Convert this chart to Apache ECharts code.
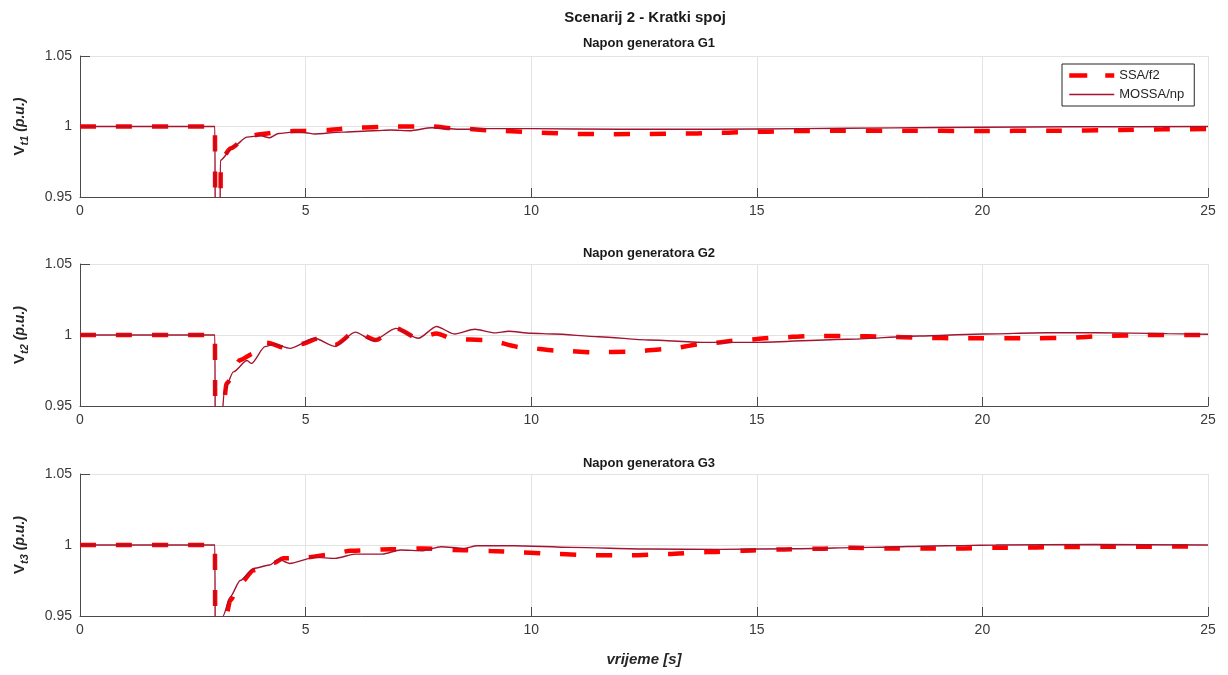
<!DOCTYPE html>
<html>
<head>
<meta charset="utf-8">
<script src="https://cdn.jsdelivr.net/npm/echarts@6/dist/echarts.min.js"></script>
<style>
html,body{margin:0;padding:0;background:#fff;}
#chart{width:1228px;height:675px;}
</style>
</head>
<body>
<div id="chart"></div>
<script>
// ---- Data ----
const xTicks = [0, 5, 10, 15, 20, 25];
const yTicks = [0.95, 1, 1.05];

// Panel 1 : Napon generatora G1
const t1SSA = [0, 2.99, 3.0, 3.11, 3.12, 3.34, 3.7, 4.0, 4.5, 5.0, 5.5, 6.2, 7.0, 7.8, 8.3, 9.4, 10.2, 11.0, 11.8, 12.6, 13.4, 14.2, 15.0, 15.8, 16.7, 18.3, 19.9, 21.5, 23.1, 24.0, 25];
const v1SSA = [1, 1, 0.90, 0.90, 0.976, 0.9845, 0.9928, 0.9945, 0.9965, 0.997, 0.9976, 0.9993, 1.0, 1.0, 0.9987, 0.9968, 0.9956, 0.9947, 0.9945, 0.9947, 0.995, 0.9955, 0.9963, 0.9968, 0.997, 0.997, 0.9968, 0.997, 0.9975, 0.998, 0.9982];
const t1MOS = [0, 2.99, 3.0, 3.1, 3.11, 3.4, 3.7, 4.0, 4.2, 4.4, 4.7, 5.0, 5.2, 5.8, 6.5, 6.9, 7.3, 7.8, 8.4, 9, 10, 12, 14, 16, 18, 20, 22, 25];
const v1MOS = [1, 1, 0.90, 0.90, 0.976, 0.9857, 0.9925, 0.9935, 0.992, 0.995, 0.996, 0.9956, 0.9947, 0.996, 0.997, 0.9975, 0.997, 0.9991, 0.998, 0.9985, 0.9985, 0.998, 0.998, 0.9985, 0.999, 0.9995, 0.9998, 1.0];

// Panel 2 : Napon generatora G2
const t2SSA = [0, 2.99, 3.0, 3.1, 3.18, 3.25, 3.55, 3.85, 4.13, 4.6, 4.9, 5.3, 5.65, 6.1, 6.55, 7.0, 7.5, 7.9, 8.3, 9.0, 9.8, 10.6, 11.4, 12.2, 13.0, 13.8, 14.7, 15.4, 16.2, 17.1, 17.8, 18.7, 19.5, 21.2, 21.9, 22.7, 23.6, 25];
const v2SSA = [1, 1, 0.90, 0.91, 0.95, 0.966, 0.9824, 0.987, 0.9946, 0.9906, 0.9937, 0.9977, 0.993, 1.0023, 0.9965, 1.0047, 0.9977, 1.001, 0.997, 0.9965, 0.9913, 0.989, 0.9878, 0.9883, 0.9901, 0.9937, 0.9965, 0.9981, 0.9993, 0.9993, 0.9988, 0.998, 0.9977, 0.9977, 0.998, 0.9993, 1.0, 1.0];
const t2MOS = [0, 2.99, 3.0, 3.1, 3.2, 3.4, 3.7, 3.8, 4.1, 4.3, 4.65, 5.2, 5.65, 6.1, 6.5, 7.0, 7.5, 7.9, 8.3, 8.75, 9.2, 9.5, 10.0, 10.5, 11.5, 12.6, 13.9, 15.0, 17, 18.6, 20, 21.4, 22.5, 24.1, 25];
const v2MOS = [1, 1, 0.90, 0.92, 0.961, 0.974, 0.982, 0.980, 0.9918, 0.9937, 0.9906, 0.9977, 0.992, 1.002, 0.996, 1.0047, 0.9977, 1.006, 1.0007, 1.004, 1.0015, 1.0026, 1.0012, 1.0007, 0.9988, 0.9965, 0.9948, 0.9948, 0.997, 0.9993, 1.0007, 1.0016, 1.0016, 1.001, 1.0005];

// Panel 3 : Napon generatora G3
const t3SSA = [0, 2.99, 3.0, 3.15, 3.24, 3.33, 3.55, 3.85, 4.3, 4.5, 5.0, 5.5, 6.0, 6.9, 7.6, 8.3, 9.1, 9.8, 10.6, 11.4, 12.2, 13.0, 13.9, 14.7, 15.5, 16.3, 17.1, 17.9, 18.7, 19.6, 20.3, 21.2, 21.9, 22.7, 23.6, 24.4, 25];
const v3SSA = [1, 1, 0.90, 0.90, 0.95, 0.961, 0.9729, 0.9823, 0.9875, 0.9906, 0.9913, 0.993, 0.996, 0.997, 0.9976, 0.9965, 0.9958, 0.9948, 0.9936, 0.9927, 0.9927, 0.9936, 0.995, 0.996, 0.9969, 0.9974, 0.9981, 0.9976, 0.9976, 0.9976, 0.9981, 0.9983, 0.9986, 0.9988, 0.9988, 0.999, 0.999];
const t3MOS = [0, 2.99, 3.0, 3.1, 3.17, 3.33, 3.55, 3.85, 4.2, 4.4, 4.65, 5.2, 5.65, 6.1, 6.7, 7.1, 7.6, 8.0, 8.5, 8.8, 9.6, 10.9, 12.6, 14.2, 15.9, 17.5, 19.2, 20.3, 22.5, 25];
const v3MOS = [1, 1, 0.90, 0.92, 0.95, 0.9635, 0.975, 0.9835, 0.9859, 0.9899, 0.987, 0.9913, 0.9906, 0.9936, 0.9936, 0.9965, 0.996, 0.9988, 0.9976, 0.9995, 0.9995, 0.9983, 0.9972, 0.9969, 0.9974, 0.9983, 0.9995, 1.0, 1.0003, 1.0];

const seriesNames = ['SSA/f2', 'MOSSA/np'];
const panelTitles = ['Napon generatora G1', 'Napon generatora G2', 'Napon generatora G3'];
const yNames = ['t1', 't2', 't3'];
const mainTitle = 'Scenarij 2 - Kratki spoj';
const xName = 'vrijeme [s]';

// ---- Build chart ----
const FONT = '"Liberation Sans", Arial, Helvetica, sans-serif';
const pair = (t, v) => t.map((x, i) => [x, v[i]]);
const panels = [
  {ssa: pair(t1SSA, v1SSA), mos: pair(t1MOS, v1MOS)},
  {ssa: pair(t2SSA, v2SSA), mos: pair(t2MOS, v2MOS)},
  {ssa: pair(t3SSA, v3SSA), mos: pair(t3MOS, v3MOS)}
];
const gridTops = [56, 264, 474];
const gridHeights = [141, 142, 142];
const titleTops = [32, 242, 452];

const axisColor = '#4a4a4a';
const labelColor = '#3a3a3a';
const gridColor = '#e3e3e3';

const grids = [], xAxes = [], yAxes = [], series = [];
panels.forEach((p, i) => {
  grids.push({left: 80, right: 20, top: gridTops[i], height: gridHeights[i], containLabel: false});
  xAxes.push({
    type: 'value', gridIndex: i, min: xTicks[0], max: xTicks[xTicks.length - 1], interval: 5,
    axisLine: {show: true, onZero: false, lineStyle: {color: axisColor, width: 1}},
    axisTick: {show: true, inside: true, length: 9, lineStyle: {color: axisColor}},
    axisLabel: {color: labelColor, fontSize: 14, fontFamily: FONT, margin: 7},
    splitLine: {show: true, lineStyle: {color: gridColor, width: 1}},
    name: i === 2 ? xName : '',
    nameLocation: 'middle', nameGap: 36,
    nameTextStyle: {fontFamily: FONT, fontSize: 15, fontWeight: 'bold', fontStyle: 'italic', color: '#262626'}
  });
  yAxes.push({
    type: 'value', gridIndex: i, min: yTicks[0], max: yTicks[yTicks.length - 1], interval: 0.05,
    axisLine: {show: true, onZero: false, lineStyle: {color: axisColor, width: 1}},
    axisTick: {show: true, inside: true, length: 10, lineStyle: {color: axisColor}},
    axisLabel: {color: labelColor, fontSize: 14, fontFamily: FONT, margin: 8,
      formatter: v => String(Math.round(v * 100) / 100)},
    splitLine: {show: true, lineStyle: {color: gridColor, width: 1}},
    name: '{v|V}{s|' + yNames[i] + '}{p| (p.u.)}',
    nameLocation: 'middle', nameRotate: 90, nameGap: 51,
    nameTextStyle: {
      color: '#262626',
      rich: {
        v: {fontFamily: FONT, fontSize: 15, fontWeight: 'bold', lineHeight: 18, verticalAlign: 'middle', color: '#262626'},
        s: {fontFamily: FONT, fontSize: 11, fontWeight: 'bold', fontStyle: 'italic', lineHeight: 12, padding: [10, 0, 0, 0], color: '#262626'},
        p: {fontFamily: FONT, fontSize: 14, fontWeight: 'bold', fontStyle: 'italic', lineHeight: 18, verticalAlign: 'middle', color: '#262626'}
      }
    }
  });
  series.push({
    name: seriesNames[0], type: 'line', xAxisIndex: i, yAxisIndex: i,
    data: p.ssa, symbol: 'none', smooth: 0.25, smoothMonotone: 'x', clip: true,
    lineStyle: {color: '#ff0000', width: 4.5, type: [16, 20]},
    itemStyle: {color: '#ff0000'}, z: 2, animation: false
  });
  series.push({
    name: seriesNames[1], type: 'line', xAxisIndex: i, yAxisIndex: i,
    data: p.mos, symbol: 'none', smooth: 0.25, smoothMonotone: 'x', clip: true,
    lineStyle: {color: '#a2142f', width: 1.4},
    itemStyle: {color: '#a2142f'}, z: 3, animation: false
  });
});

const titles = [{
  text: mainTitle, left: 640, top: 5, textAlign: 'center',
  textStyle: {fontFamily: FONT, fontSize: 15, fontWeight: 'bold', color: '#1a1a1a'}
}];
panelTitles.forEach((t, i) => titles.push({
  text: t, left: 644, top: titleTops[i], textAlign: 'center',
  textStyle: {fontFamily: FONT, fontSize: 13, fontWeight: 'bold', color: '#1a1a1a'}
}));

const chart = echarts.init(document.getElementById('chart'), null, {renderer: 'canvas'});
chart.setOption({
  animation: false,
  backgroundColor: '#ffffff',
  title: titles,
  legend: {
    data: [
      {name: seriesNames[0], lineStyle: {width: 4.5, type: [18, 18], color: '#ff0000'}},
      {name: seriesNames[1], lineStyle: {width: 1.4, color: '#a2142f'}}
    ],
    orient: 'vertical', left: 1062, top: 64,
    padding: [5, 10, 5, 5], itemGap: 6, itemWidth: 45, itemHeight: 14,
    borderColor: '#262626', borderWidth: 1, backgroundColor: '#ffffff',
    itemStyle: {opacity: 0},
    textStyle: {fontFamily: FONT, fontSize: 13, color: '#262626'}
  },
  grid: grids, xAxis: xAxes, yAxis: yAxes, series: series
});
</script>
</body>
</html>
